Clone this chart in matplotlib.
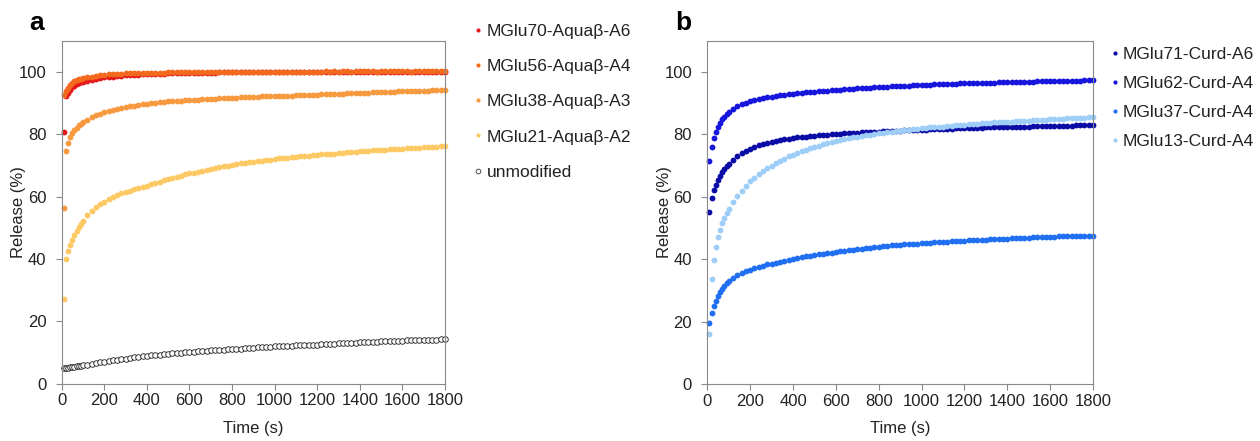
import matplotlib.pyplot as plt
from matplotlib.lines import Line2D

plt.rcParams['font.family'] = ['Liberation Sans', 'DejaVu Sans']

# sampling times (s): every 10 s up to 100 s, then every 20 s
time_s = list(range(10, 101, 10)) + list(range(120, 1801, 20))

# panel a: Aquabeta series (% release)
mglu70_a6 = [80.6, 92.1, 93.2, 94.3, 95.0, 95.6, 96.0, 96.4, 96.7, 96.9,
             97.2, 97.5, 97.8, 98.0, 98.3,
             98.4, 98.5, 98.7, 98.8, 98.9,
             99.0, 99.1, 99.1, 99.2, 99.3,
             99.3, 99.4, 99.4, 99.4, 99.5,
             99.5, 99.5, 99.6, 99.6, 99.6,
             99.6, 99.7, 99.7, 99.7, 99.7,
             99.7, 99.8, 99.8, 99.8, 99.8,
             99.8, 99.8, 99.9, 99.9, 99.9,
             99.9, 99.9, 99.9, 99.9, 99.9,
             99.9, 100.0, 99.9, 100.0, 100.0,
             100.0, 99.9, 100.0, 100.0, 100.0,
             100.0, 100.0, 99.9, 100.0, 100.0,
             100.0, 100.0, 100.0, 100.1, 100.0,
             100.0, 100.0, 100.0, 100.0, 100.1,
             100.0, 100.0, 100.1, 100.0, 100.0,
             100.0, 100.1, 100.0, 100.0, 100.0,
             100.0, 100.0, 100.0, 100.1, 100.0]
mglu56_a4 = [92.5, 93.8, 94.9, 95.9, 96.5, 97.0, 97.3, 97.6, 97.8, 98.0,
             98.3, 98.5, 98.7, 98.9, 99.1,
             99.2, 99.3, 99.3, 99.4, 99.5,
             99.5, 99.5, 99.6, 99.6, 99.7,
             99.7, 99.7, 99.7, 99.7, 99.8,
             99.8, 99.8, 99.8, 99.8, 99.8,
             99.8, 99.9, 99.8, 99.9, 99.9,
             99.9, 99.9, 99.9, 99.9, 99.9,
             99.9, 100.0, 99.9, 100.0, 100.0,
             100.0, 100.0, 100.0, 100.0, 100.0,
             100.0, 100.1, 100.0, 100.1, 100.1,
             100.1, 100.1, 100.1, 100.1, 100.1,
             100.1, 100.2, 100.1, 100.2, 100.1,
             100.2, 100.2, 100.1, 100.2, 100.2,
             100.2, 100.2, 100.2, 100.1, 100.2,
             100.2, 100.2, 100.2, 100.2, 100.2,
             100.2, 100.1, 100.2, 100.2, 100.2,
             100.2, 100.2, 100.2, 100.2, 100.2]
mglu38_a3 = [56.2, 74.5, 77.3, 79.2, 80.3, 81.3, 82.1, 82.8, 83.4, 83.9,
             84.7, 85.4, 86.0, 86.6, 87.1,
             87.5, 87.9, 88.2, 88.5, 88.8,
             89.0, 89.2, 89.4, 89.6, 89.8,
             90.0, 90.1, 90.3, 90.4, 90.5,
             90.6, 90.7, 90.8, 90.9, 91.0,
             91.1, 91.1, 91.2, 91.3, 91.3,
             91.4, 91.5, 91.5, 91.6, 91.7,
             91.7, 91.8, 91.8, 91.9, 92.0,
             92.0, 92.1, 92.1, 92.2, 92.2,
             92.3, 92.3, 92.4, 92.4, 92.5,
             92.5, 92.6, 92.6, 92.7, 92.7,
             92.8, 92.8, 92.9, 92.9, 93.0,
             93.0, 93.1, 93.1, 93.2, 93.2,
             93.3, 93.3, 93.4, 93.4, 93.5,
             93.5, 93.6, 93.6, 93.7, 93.7,
             93.8, 93.8, 93.9, 93.9, 94.0,
             94.0, 94.1, 94.1, 94.2, 94.2]
mglu21_a2 = [27.2, 39.8, 42.5, 44.4, 46.1, 47.7, 49.0, 50.2, 51.3, 52.3,
             54.1, 55.4, 56.5, 57.5, 58.4,
             59.2, 59.9, 60.5, 61.0, 61.5,
             61.9, 62.3, 62.7, 63.1, 63.5,
             63.9, 64.4, 64.8, 65.3, 65.7,
             66.0, 66.4, 66.7, 67.1, 67.4,
             67.7, 68.0, 68.3, 68.6, 68.9,
             69.2, 69.4, 69.7, 69.9, 70.2,
             70.4, 70.6, 70.8, 71.0, 71.1,
             71.3, 71.5, 71.7, 71.8, 72.0,
             72.2, 72.3, 72.5, 72.6, 72.7,
             72.9, 73.0, 73.1, 73.3, 73.4,
             73.5, 73.6, 73.7, 73.8, 74.0,
             74.1, 74.2, 74.3, 74.4, 74.5,
             74.6, 74.7, 74.8, 74.9, 75.0,
             75.0, 75.1, 75.2, 75.3, 75.4,
             75.5, 75.6, 75.7, 75.7, 75.8,
             75.9, 76.0, 76.0, 76.1, 76.2]
unmodified = [4.9, 5.0, 5.1, 5.2, 5.3, 5.4, 5.5, 5.6, 5.7, 5.8,
              6.0, 6.3, 6.5, 6.8, 7.0,
              7.2, 7.4, 7.6, 7.8, 8.0,
              8.2, 8.4, 8.5, 8.7, 8.9,
              9.0, 9.2, 9.3, 9.4, 9.6,
              9.7, 9.8, 9.9, 10.0, 10.1,
              10.2, 10.3, 10.4, 10.5, 10.6,
              10.7, 10.8, 10.9, 11.0, 11.1,
              11.2, 11.2, 11.3, 11.4, 11.5,
              11.6, 11.6, 11.7, 11.8, 11.9,
              11.9, 12.0, 12.1, 12.1, 12.2,
              12.3, 12.3, 12.4, 12.5, 12.5,
              12.6, 12.7, 12.7, 12.8, 12.9,
              12.9, 13.0, 13.0, 13.1, 13.2,
              13.2, 13.3, 13.3, 13.4, 13.5,
              13.5, 13.6, 13.6, 13.7, 13.7,
              13.8, 13.8, 13.9, 13.9, 14.0,
              14.0, 14.1, 14.1, 14.2, 14.3]

# panel b: Curdlan series (% release)
mglu71_a6 = [55.2, 59.5, 62.1, 63.9, 65.4, 66.7, 67.9, 68.9, 69.8, 70.6,
             71.9, 73.0, 73.9, 74.7, 75.4,
             76.0, 76.5, 76.9, 77.3, 77.6,
             77.9, 78.2, 78.4, 78.6, 78.8,
             79.0, 79.2, 79.3, 79.5, 79.6,
             79.7, 79.8, 79.9, 80.0, 80.1,
             80.2, 80.3, 80.4, 80.5, 80.5,
             80.6, 80.7, 80.8, 80.8, 80.9,
             81.0, 81.0, 81.1, 81.1, 81.2,
             81.3, 81.3, 81.4, 81.4, 81.5,
             81.5, 81.6, 81.6, 81.7, 81.7,
             81.8, 81.8, 81.9, 81.9, 82.0,
             82.0, 82.0, 82.1, 82.1, 82.2,
             82.2, 82.2, 82.3, 82.3, 82.4,
             82.4, 82.4, 82.5, 82.5, 82.5,
             82.6, 82.6, 82.6, 82.7, 82.7,
             82.7, 82.8, 82.8, 82.8, 82.8,
             82.9, 82.9, 82.9, 83.0, 83.0]
mglu62_a4 = [71.6, 76.0, 78.8, 80.6, 82.4, 83.7, 84.8, 85.7, 86.5, 87.2,
             88.2, 89.0, 89.6, 90.1, 90.6,
             91.0, 91.3, 91.6, 91.9, 92.1,
             92.3, 92.5, 92.7, 92.9, 93.0,
             93.2, 93.3, 93.5, 93.6, 93.7,
             93.8, 93.9, 94.0, 94.1, 94.2,
             94.3, 94.4, 94.5, 94.6, 94.7,
             94.8, 94.9, 95.0, 95.1, 95.2,
             95.2, 95.3, 95.4, 95.4, 95.5,
             95.6, 95.6, 95.7, 95.8, 95.8,
             95.9, 95.9, 96.0, 96.0, 96.1,
             96.1, 96.2, 96.2, 96.3, 96.3,
             96.4, 96.4, 96.5, 96.5, 96.5,
             96.6, 96.6, 96.7, 96.7, 96.7,
             96.8, 96.8, 96.8, 96.9, 96.9,
             96.9, 97.0, 97.0, 97.0, 97.1,
             97.1, 97.1, 97.1, 97.2, 97.2,
             97.2, 97.2, 97.3, 97.3, 97.3]
mglu37_a4 = [19.6, 22.6, 24.9, 26.6, 28.1, 29.5, 30.6, 31.5, 32.3, 33.0,
             34.0, 34.8, 35.5, 36.1, 36.6,
             37.1, 37.5, 37.9, 38.3, 38.6,
             38.9, 39.2, 39.5, 39.8, 40.1,
             40.4, 40.6, 40.9, 41.1, 41.3,
             41.5, 41.7, 41.9, 42.1, 42.3,
             42.5, 42.7, 42.9, 43.0, 43.2,
             43.4, 43.5, 43.7, 43.8, 44.0,
             44.1, 44.2, 44.4, 44.5, 44.6,
             44.7, 44.8, 44.9, 45.0, 45.1,
             45.2, 45.3, 45.4, 45.5, 45.6,
             45.6, 45.7, 45.8, 45.9, 45.9,
             46.0, 46.1, 46.2, 46.2, 46.3,
             46.4, 46.4, 46.5, 46.6, 46.6,
             46.7, 46.7, 46.8, 46.9, 46.9,
             47.0, 47.0, 47.1, 47.1, 47.2,
             47.2, 47.3, 47.3, 47.3, 47.4,
             47.4, 47.4, 47.5, 47.5, 47.5]
mglu13_a4 = [16.0, 33.8, 39.8, 43.9, 47.0, 49.5, 51.6, 53.2, 54.8, 56.2,
             58.3, 60.2, 61.9, 63.5, 64.9,
             66.1, 67.2, 68.2, 69.1, 70.0,
             70.8, 71.5, 72.2, 72.9, 73.5,
             74.1, 74.6, 75.1, 75.6, 76.0,
             76.4, 76.8, 77.2, 77.5, 77.8,
             78.1, 78.4, 78.7, 79.0, 79.2,
             79.5, 79.7, 79.9, 80.1, 80.3,
             80.5, 80.7, 80.8, 81.0, 81.2,
             81.3, 81.5, 81.6, 81.8, 81.9,
             82.0, 82.2, 82.3, 82.4, 82.5,
             82.7, 82.8, 82.9, 83.0, 83.1,
             83.2, 83.3, 83.4, 83.5, 83.6,
             83.7, 83.8, 83.9, 84.0, 84.0,
             84.1, 84.2, 84.3, 84.4, 84.4,
             84.5, 84.6, 84.6, 84.7, 84.8,
             84.9, 84.9, 85.0, 85.1, 85.1,
             85.2, 85.3, 85.3, 85.4, 85.5]

series_a = [("MGlu70-Aquaβ-A6", mglu70_a6, "#e31b1b"),
            ("MGlu56-Aquaβ-A4", mglu56_a4, "#f36a1f"),
            ("MGlu38-Aquaβ-A3", mglu38_a3, "#f7993f"),
            ("MGlu21-Aquaβ-A2", mglu21_a2, "#fdc965")]
series_b = [("MGlu71-Curd-A6", mglu71_a6, "#0b0ba6"),
            ("MGlu62-Curd-A4", mglu62_a4, "#1616dc"),
            ("MGlu37-Curd-A4", mglu37_a4, "#1f6ff0"),
            ("MGlu13-Curd-A4", mglu13_a4, "#9ecdf7")]

W, H = 1260, 441
fig = plt.figure(figsize=(W / 100, H / 100), dpi=100)
ax_a = fig.add_axes([61.7 / W, 1 - 383.5 / H, (445 - 61.7) / W, (383.5 - 40.7) / H])
ax_b = fig.add_axes([707.3 / W, 1 - 384 / H, (1093 - 707.3) / W, (384 - 40.7) / H])

FS = 12
TXT = "#222222"


def style_axes(ax):
    ax.set_xlim(0, 1800)
    ax.set_ylim(0, 110)
    ax.set_xticks(range(0, 1801, 200))
    ax.set_yticks(range(0, 101, 20))
    for s in ax.spines.values():
        s.set_color("#8a8a8a")
        s.set_linewidth(0.8)
    ax.tick_params(direction="out", length=4, width=0.8, color="#8a8a8a",
                   labelsize=FS, labelcolor=TXT)
    ax.tick_params(axis="x", pad=3)
    ax.tick_params(axis="y", pad=7)
    ax.set_xlabel("Time (s)", fontsize=FS, color=TXT)
    ax.set_ylabel("Release (%)", fontsize=FS, color=TXT)
    ax.xaxis.set_label_coords(0.5, -0.13)
    ax.xaxis.label.set_va("center")
    ax.yaxis.set_label_coords(-0.112, 0.5)
    ax.yaxis.label.set_va("center")


handles = []
for label, vals, col in series_a:
    ax_a.plot(time_s, vals, "o", ms=4.2, mew=0, color=col, clip_on=False)
    handles.append(Line2D([], [], ls="none", marker="o", ms=3.0, mew=0, color=col, label=label))
ax_a.plot(time_s, unmodified, "o", ms=4.0, mfc="white", mec="#1a1a1a", mew=0.6, clip_on=False)
handles.append(Line2D([], [], ls="none", marker="o", ms=3.4, mfc="white", mec="#333333",
                      mew=0.6, label="unmodified"))
style_axes(ax_a)
fig.legend(handles=handles, loc="upper left", bbox_to_anchor=(473.7 / W, 1 - 24 / H),
           frameon=False, fontsize=12.5, handlelength=0.5, handletextpad=0.26,
           labelspacing=1.15, borderpad=0, borderaxespad=0, labelcolor=TXT)

handles = []
for label, vals, col in series_b:
    ax_b.plot(time_s, vals, "o", ms=4.2, mew=0, color=col, clip_on=False)
    handles.append(Line2D([], [], ls="none", marker="o", ms=3.0, mew=0, color=col, label=label))
style_axes(ax_b)
fig.legend(handles=handles, loc="upper left", bbox_to_anchor=(1110.7 / W, 1 - 47 / H),
           frameon=False, fontsize=12.5, handlelength=0.5, handletextpad=0.2,
           labelspacing=0.79, borderpad=0, borderaxespad=0, labelcolor=TXT)

fig.text(37 / W, 1 - 23 / H, "a", fontsize=19, fontweight="bold", ha="center", va="center")
fig.text(683 / W, 1 - 23 / H, "b", fontsize=19, fontweight="bold", ha="center", va="center")

fig.savefig("out.png", dpi=100)
